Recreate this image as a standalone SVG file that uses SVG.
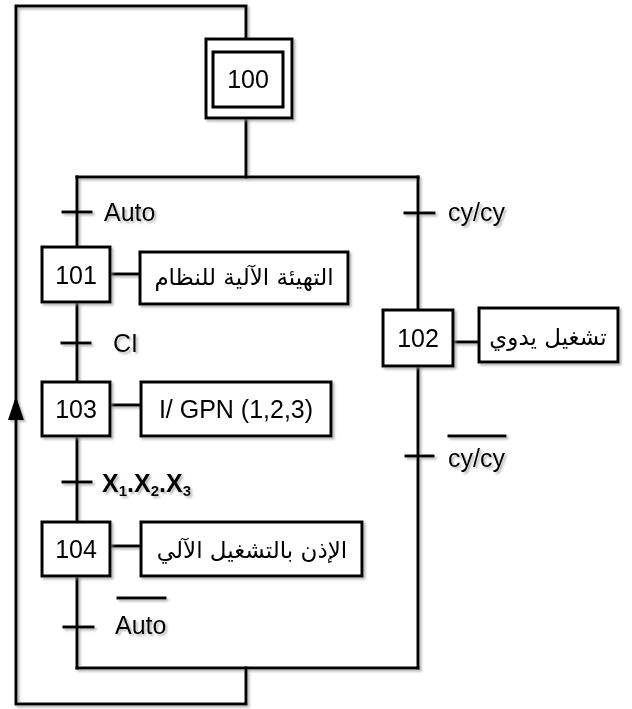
<svg xmlns="http://www.w3.org/2000/svg" width="632" height="709" viewBox="0 0 632 709">
<defs>
<filter id="sh" x="-5%" y="-5%" width="115%" height="115%">
<feDropShadow dx="2" dy="2" stdDeviation="1" flood-color="#888" flood-opacity="0.6"/>
</filter>
</defs>
<style>
.ln{fill:none;stroke:#000;stroke-width:3;stroke-linecap:square}
.bx{fill:#fff;stroke:#000;stroke-width:3}
.t{font-family:"Liberation Sans",Arial,sans-serif;font-size:25px;fill:#000}
.ar{font-family:"DejaVu Sans","Noto Sans",sans-serif;font-size:23px;fill:#000}
.c{text-anchor:middle}
</style>
<rect width="632" height="709" fill="#fff"/>
<g id="connectors" filter="url(#sh)">
<path class="ln" d="M246 38 L246 6 L16 6 L16 704 L246 704 L246 668"/>
<polygon points="16,396 24,420 8,420" fill="#000"/>
<path class="ln" d="M246 118 L246 177"/>
<path class="ln" d="M77 177 L418 177"/>
<path class="ln" d="M77 177 L77 247"/>
<path class="ln" d="M418 177 L418 310"/>
<path class="ln" d="M77 302 L77 382"/>
<path class="ln" d="M77 436 L77 522"/>
<path class="ln" d="M77 576 L77 668"/>
<path class="ln" d="M418 366 L418 668"/>
<path class="ln" d="M77 668 L418 668"/>
<path class="ln" d="M63 212 L91 212"/>
<path class="ln" d="M405 213 L434 213"/>
<path class="ln" d="M62 343 L90 343"/>
<path class="ln" d="M63 482 L91 482"/>
<path class="ln" d="M64 627 L93 627"/>
<path class="ln" d="M406 456 L433 456"/>
<path class="ln" d="M110 274 L140 274"/>
<path class="ln" d="M110 405 L141 405"/>
<path class="ln" d="M110 546 L141 546"/>
<path class="ln" d="M453 342 L479 342"/>
<path class="ln" d="M118 598 L165 598" stroke-width="2.5"/>
<path class="ln" d="M449 436 L505 436" stroke-width="2.5"/>
</g>
<g id="labels" filter="url(#sh)">
<text class="t" x="104" y="221">Auto</text>
<text class="t" x="448" y="221">cy/cy</text>
<text class="t" x="113" y="352">CI</text>
<text class="t" x="102" y="492" font-weight="bold">X<tspan font-size="15" dy="4">1</tspan><tspan dy="-4">.X</tspan><tspan font-size="15" dy="4">2</tspan><tspan dy="-4">.X</tspan><tspan font-size="15" dy="4">3</tspan></text>
<text class="t" x="115" y="634">Auto</text>
<text class="t" x="448" y="467">cy/cy</text>
</g>
<g id="step100" filter="url(#sh)">
<rect class="bx" x="206" y="39" width="86" height="79"/>
<rect class="bx" x="213" y="52" width="70" height="55"/>
<text class="t c" x="248" y="88">100</text>
</g>
<g id="step101" filter="url(#sh)">
<rect class="bx" x="42" y="247" width="68" height="55"/>
<text class="t c" x="76" y="284">101</text>
</g>
<g id="action101" filter="url(#sh)">
<rect class="bx" x="140" y="252" width="208" height="52"/>
<text class="ar c" x="244" y="285">التهيئة الآلية للنظام</text>
</g>
<g id="step102" filter="url(#sh)">
<rect class="bx" x="383" y="310" width="70" height="56"/>
<text class="t c" x="418" y="347">102</text>
</g>
<g id="action102" filter="url(#sh)">
<rect class="bx" x="479" y="308" width="139" height="54"/>
<text class="ar c" x="548" y="345">تشغيل يدوي</text>
</g>
<g id="step103" filter="url(#sh)">
<rect class="bx" x="42" y="382" width="68" height="54"/>
<text class="t c" x="76" y="418">103</text>
</g>
<g id="action103" filter="url(#sh)">
<rect class="bx" x="141" y="382" width="190" height="54"/>
<text class="t c" x="236" y="418">I/ GPN (1,2,3)</text>
</g>
<g id="step104" filter="url(#sh)">
<rect class="bx" x="42" y="522" width="68" height="54"/>
<text class="t c" x="76" y="558">104</text>
</g>
<g id="action104" filter="url(#sh)">
<rect class="bx" x="141" y="522" width="221" height="54"/>
<text class="ar c" x="252" y="558">الإذن بالتشغيل الآلي</text>
</g>
</svg>
